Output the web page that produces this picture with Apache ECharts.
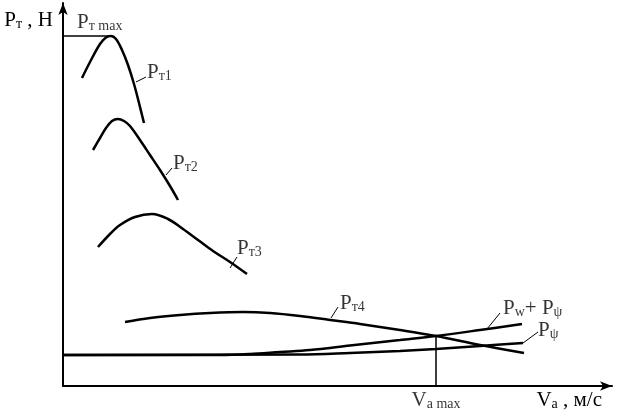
<!DOCTYPE html>
<html><head><meta charset="utf-8">
<script src="https://cdn.jsdelivr.net/npm/echarts@6/dist/echarts.min.js"></script>
<style>html,body{margin:0;padding:0;background:#fff}#c{width:623px;height:419px}</style>
</head><body><div id="c"></div>
<script>
// Traction force curves (x = speed units, y = force units; schematic)
const pt1 = [[19,308],[27,324],[37,342],[43,348.5],[48,350],[53,347],[59,336],[65,321],[71,302],[76,283],[81,263]];
const pt2 = [[30,236],[37,248],[43,258],[49,265],[55,267],[61,265],[67,260],[77,246],[87,231],[97,216],[107,200],[115,186]];
const pt3 = [[35,139],[47,152],[57,161],[72,169],[89,172],[105,167],[120,157],[135,146],[150,135],[167,124],[184,112]];
const pt4 = [[62,64],[87,68],[117,71],[147,73],[180,74],[207,73],[237,70],[267,66],[297,62],[337,56],[373,50],[417,41],[461,33]];
const pwPsi = [[0,31],[157,31],[187,32],[217,34],[247,36],[287,40.5],[337,46],[373,50],[417,56],[459,62]];
const pPsi = [[0,31],[237,31.5],[287,33],[337,35],[373,37],[417,40],[460,43]];
const ptMaxLine = [[0,350],[48,350]];
const vaMaxLine = [[373,0],[373,50]];
const leaders = [
  [[73,304],[83,309]],
  [[103,211],[109,218]],
  [[167,118],[174,129]],
  [[268,68],[275,79]],
  [[424,57],[437,73]],
  [[460,43],[475,54]]
];
const labelTexts = ['{p|P}{s|т max}','{p|P}{s|т1}','{p|P}{s|т2}','{p|P}{s|т3}','{p|P}{s|т4}','{p|P}{s|w}{p|+ P}{s|ψ}','{p|P}{s|ψ}'];
const labelAt = [[14,374],[84,324],[110,233],[174,148],[277,93],[440,88],[475,66]];
const vaMaxText = '{p|V}{s|a max}';
const yName = '{p|P}{s|т}{p| , H}';
const xName = '{p|V}{s|a}{p| , м/с}';

const F = 'Liberation Serif';
const rich = {
  p:{fontFamily:F,fontSize:21,color:'#000',lineHeight:24,verticalAlign:'top'},
  s:{fontFamily:F,fontSize:14,color:'#000',lineHeight:16,padding:[7,0,0,0],verticalAlign:'top'}
};
const curve = (d, w) => ({type:'line', data:d, smooth:0.35, symbol:'none', silent:true,
  lineStyle:{color:'#000', width:w}, clip:false});
const seg = (d, w) => ({type:'line', data:d, smooth:false, symbol:'none', silent:true,
  lineStyle:{color:'#000', width:w}, clip:false});

const series = [
  curve(pt1,2.5), curve(pt2,2.5), curve(pt3,2.5), curve(pt4,2.5),
  curve(pwPsi,2.5), curve(pPsi,2.5),
  seg(ptMaxLine,1.5), seg(vaMaxLine,1.5),
  ...leaders.map(l => seg(l,1)),
  {type:'scatter', symbolSize:0, silent:true, clip:false,
   data: labelAt.map((c,i)=>({value:c, name:labelTexts[i]})),
   label:{show:true, position:[0,0], formatter:p=>p.name, rich:rich}},
  {type:'scatter', symbolSize:0, silent:true, clip:false,
   data:[{value:[373,0], name:vaMaxText}],
   label:{show:true, position:'bottom', distance:4, formatter:p=>p.name, rich:rich}}
];

const chart = echarts.init(document.getElementById('c'));
chart.setOption({
  animation:false,
  backgroundColor:'#fff',
  grid:{left:63, right:11, top:3, bottom:33},
  xAxis:{type:'value', min:0, max:549,
    axisLine:{lineStyle:{color:'#000',width:2}, symbol:['none','arrow'], symbolSize:[7,12]},
    axisTick:{show:false}, axisLabel:{show:false}, splitLine:{show:false},
    name:xName, nameLocation:'end', nameGap:-10,
    nameTextStyle:{align:'right', verticalAlign:'top', padding:[4,0,0,0], rich:rich}},
  yAxis:{type:'value', min:0, max:383,
    axisLine:{lineStyle:{color:'#000',width:2}, symbol:['none','arrow'], symbolSize:[7,12]},
    axisTick:{show:false}, axisLabel:{show:false}, splitLine:{show:false},
    name:yName, nameLocation:'end', nameGap:-7,
    nameTextStyle:{align:'right', verticalAlign:'top', padding:[0,10,0,0], rich:rich}},
  series:series
});
</script>
</body></html>
